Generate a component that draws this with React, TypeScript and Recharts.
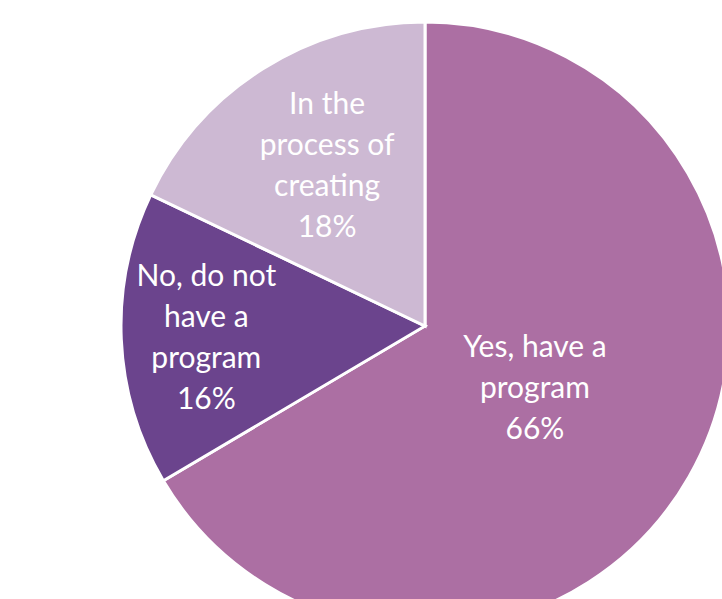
import React from 'react';
import { PieChart, Pie, Cell } from 'recharts';

const categories = ['Yes, have a program', 'No, do not have a program', 'In the process of creating'];
const values = [66.5, 15.6, 17.9];
const labelLines = [
  ['Yes, have a', 'program', '66%'],
  ['No, do not', 'have a', 'program', '16%'],
  ['In the', 'process of', 'creating', '18%'],
];
const colors = ['#AC6FA3', '#6B448D', '#CDB9D3'];
const labelRadiusFactor = [0.412, 0.72, 0.625];
const labelAngleShift = [1.1, 0, -1.2];

const data = categories.map((name, i) => ({ name, value: values[i], idx: i }));

const RAD = Math.PI / 180;

const renderLabel = (props: any) => {
  const { cx, cy, midAngle, outerRadius, index } = props;
  const r = outerRadius * labelRadiusFactor[index];
  const a = midAngle + labelAngleShift[index];
  const x = cx + r * Math.cos(-a * RAD);
  const y = cy + r * Math.sin(-a * RAD);
  const lines = labelLines[index];
  const lh = 41;
  const startY = y - ((lines.length - 1) * lh) / 2;
  return (
    <text x={x} y={startY} fill="#ffffff" textAnchor="middle" dominantBaseline="central"
      style={{ fontFamily: 'Lato, sans-serif', fontSize: 30 }}>
      {lines.map((l, i) => (
        <tspan key={i} x={x} y={startY + i * lh}>{l}</tspan>
      ))}
    </text>
  );
};

export default function App() {
  return (
    <div style={{ position: 'absolute', left: 0, top: 0, width: 722, height: 599, background: '#ffffff', overflow: 'hidden' }}>
      <PieChart width={722} height={599} margin={{ top: 0, right: 0, bottom: 0, left: 0 }}>
        <Pie
          data={data}
          dataKey="value"
          nameKey="name"
          cx={425}
          cy={326}
          outerRadius={304}
          startAngle={90}
          endAngle={-270}
          stroke="#ffffff"
          strokeWidth={3}
          label={renderLabel}
          labelLine={false}
          isAnimationActive={false}
        >
          {data.map((d, i) => (
            <Cell key={i} fill={colors[i]} />
          ))}
        </Pie>
      </PieChart>
    </div>
  );
}
